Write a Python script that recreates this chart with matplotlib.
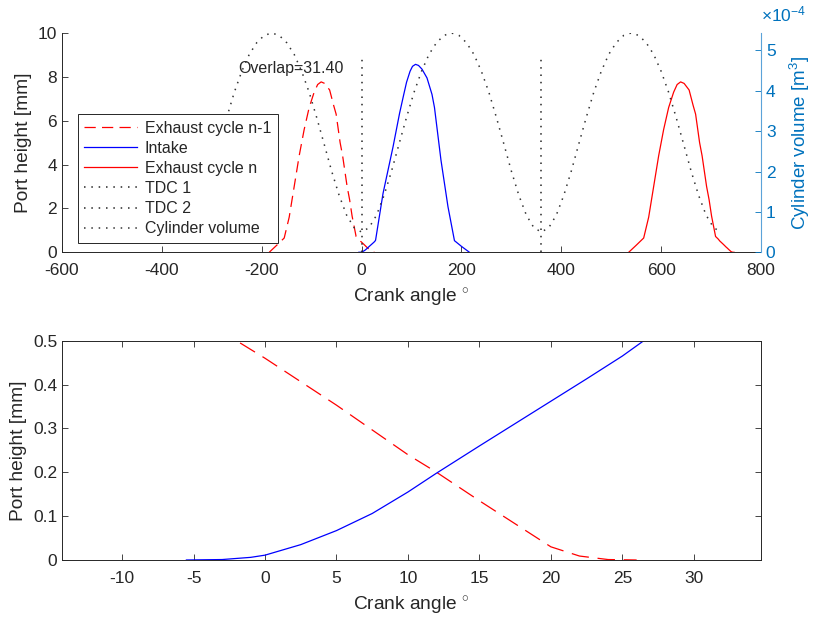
import numpy as np
import matplotlib
matplotlib.use('Agg')
import matplotlib.pyplot as plt

plt.rcParams['font.family'] = ['Liberation Sans', 'DejaVu Sans']
plt.rcParams['mathtext.fontset'] = 'custom'
plt.rcParams['mathtext.rm'] = 'Liberation Sans'
plt.rcParams['mathtext.it'] = 'Liberation Sans:italic'
plt.rcParams['axes.unicode_minus'] = False

# Exhaust valve lift, previous cycle (n-1) and current cycle (n)
exh_prev_angle = [-185, -170, -155, -145, -135, -125, -115, -105, -95, -88, -81, -74,
                  -64, -56, -51, -43, -38, -29, -24, -19, -11, -6, -2, 0, 5, 10, 12,
                  15, 20, 22, 24, 26]
exh_n_angle = [535, 550, 565, 575, 585, 595, 605, 615, 625, 632, 639, 646,
               656, 664, 669, 677, 682, 691, 696, 701, 709, 714, 718, 720, 725, 730, 732,
               735, 740, 742, 744, 746]
exh_lift = [0, 0.32, 0.65, 1.6, 3.0, 4.4, 5.6, 6.6, 7.3, 7.65, 7.77, 7.7,
            7.4, 6.7, 6.3, 5.0, 4.4, 3.0, 2.4, 1.65, 0.72, 0.61, 0.5, 0.46, 0.353, 0.24, 0.20,
            0.135, 0.03, 0.009, 0.001, 0]

# Intake valve lift
int_angle = [-5.5, -3, -1, 0, 2.5, 5, 7.5, 10, 12, 15, 17.5, 20, 22.5, 25, 26.5, 28,
             35, 43, 53, 63, 76, 84, 90, 97, 102, 108, 114, 121, 131, 141, 146, 159,
             173, 186, 200, 216]
int_lift = [0, 0.001, 0.006, 0.011, 0.035, 0.067, 0.106, 0.155, 0.198, 0.260, 0.311,
            0.362, 0.413, 0.465, 0.50, 0.55, 1.55, 2.69, 3.75, 4.81, 6.33, 7.15, 7.75,
            8.25, 8.48, 8.57, 8.52, 8.35, 7.95, 7.2, 6.6, 4.2, 2.08, 0.53, 0.27, 0]

# TDC markers
tdc1_x = [0, 0]
tdc2_x = [360, 360]
tdc_y = [0, 9]

# Cylinder volume [x1e-4 m^3], every 15 deg from -360 to 720
vol_angle = [-360, -345, -330, -315, -300, -285, -270, -255, -240, -225, -210, -195,
             -180, -165, -150, -135, -120, -105, -90, -75, -60, -45, -30, -15,
             0, 15, 30, 45, 60, 75, 90, 105, 120, 135, 150, 165,
             180, 195, 210, 225, 240, 255, 270, 285, 300, 315, 330, 345,
             360, 375, 390, 405, 420, 435, 450, 465, 480, 495, 510, 525,
             540, 555, 570, 585, 600, 615, 630, 645, 660, 675, 690, 705, 720]
vol_e4 = [0.50, 0.61, 0.92, 1.41, 2.01, 2.68, 3.34, 3.96, 4.48, 4.90, 5.19, 5.37,
          5.43, 5.37, 5.19, 4.90, 4.48, 3.96, 3.34, 2.68, 2.01, 1.41, 0.92, 0.61,
          0.50, 0.61, 0.92, 1.41, 2.01, 2.68, 3.34, 3.96, 4.48, 4.90, 5.19, 5.37,
          5.43, 5.37, 5.19, 4.90, 4.48, 3.96, 3.34, 2.68, 2.01, 1.41, 0.92, 0.61,
          0.50, 0.61, 0.92, 1.41, 2.01, 2.68, 3.34, 3.96, 4.48, 4.90, 5.19, 5.37,
          5.43, 5.37, 5.19, 4.90, 4.48, 3.96, 3.34, 2.68, 2.01, 1.41, 0.92, 0.61, 0.50]

overlap = 31.40

axcol = '#262626'
vcol = '#0072BD'
dash = (0, (9, 5))
dots = (0, (1, 3.8))

fig = plt.figure(figsize=(8.14, 6.2), dpi=100)

# ---- top plot ----
ax1 = fig.add_axes([0.0762, 0.5931, 0.8587, 0.3537])
h1, = ax1.plot(exh_prev_angle, exh_lift, color='red', lw=0.9, linestyle=dash, label='Exhaust cycle n-1')
h2, = ax1.plot(int_angle, int_lift, color='blue', lw=0.9, label='Intake')
h3, = ax1.plot(exh_n_angle, exh_lift, color='red', lw=0.9, label='Exhaust cycle n')
h4, = ax1.plot(tdc1_x, tdc_y, color='0.15', lw=1.1, linestyle=dots, label='TDC 1')
h5, = ax1.plot(tdc2_x, tdc_y, color='0.15', lw=1.1, linestyle=dots, label='TDC 2')
ax1.text(-247, 8.4, 'Overlap=%.2f' % overlap, fontsize=11.5, va='center', ha='left', color=axcol)
ax1.set_xlim(-600, 800)
ax1.set_ylim(0, 10)
ax1.set_xticks(range(-600, 801, 200))
ax1.set_yticks(range(0, 11, 2))
ax1.set_xlabel('Crank angle $^{\\circ}$', fontsize=13.8, color=axcol, labelpad=6)
ax1.set_ylabel('Port height [mm]', fontsize=13.8, color=axcol)
ax1.tick_params(direction='in', length=4, width=0.6, labelsize=12.5, colors=axcol)
ax1.tick_params(axis='x', pad=8)
for s in ['top', 'right']:
    ax1.spines[s].set_visible(False)
for s in ['left', 'bottom']:
    ax1.spines[s].set_color(axcol)
    ax1.spines[s].set_linewidth(0.7)

ax2 = ax1.twinx()
h6, = ax2.plot(vol_angle, np.array(vol_e4) * 1e-4, color='0.2', lw=1.1, linestyle=dots,
               label='Cylinder volume')
ax2.set_ylim(0, 5.43e-4)
ax2.set_yticks(np.arange(0, 5.5e-4, 1e-4))
ax2.set_yticklabels(['0', '1', '2', '3', '4', '5'])
ax2.text(1.0, 1.04, r'$\times10^{-4}$', transform=ax2.transAxes, ha='left', va='bottom',
         fontsize=12.5, color=vcol)
ax2.set_ylabel('Cylinder volume [m$^3$]', fontsize=13.5, color=vcol, labelpad=9)
ax2.tick_params(direction='in', length=4, width=0.6, labelsize=12.5, colors=vcol)
for s in ['top', 'left', 'bottom']:
    ax2.spines[s].set_visible(False)
ax2.spines['right'].set_color('#5BA3D9')
ax2.spines['right'].set_linewidth(0.8)

handles = [h1, h2, h3, h4, h5, h6]
leg = ax2.legend(handles, [h.get_label() for h in handles], loc='upper left',
                 bbox_to_anchor=(0.0225, 0.629), borderaxespad=0, fancybox=False,
                 edgecolor=axcol, framealpha=1, fontsize=11.5, handlelength=3.3,
                 handletextpad=0.5, labelspacing=0.32, borderpad=0.4)
leg.get_frame().set_linewidth(0.7)
for t in leg.get_texts():
    t.set_color(axcol)

# ---- bottom plot (zoom on overlap) ----
ax3 = fig.add_axes([0.0762, 0.0968, 0.8587, 0.3537])
ax3.plot(exh_prev_angle, exh_lift, color='red', lw=0.9, linestyle=(0, (14, 7)))
ax3.plot(int_angle, int_lift, color='blue', lw=0.9)
ax3.plot(exh_n_angle, exh_lift, color='red', lw=0.9)
ax3.set_xlim(-14.2, 34.7)
ax3.set_ylim(0, 0.5)
ax3.set_xticks(range(-10, 31, 5))
ax3.set_yticks(np.arange(0, 0.51, 0.1))
ax3.set_yticklabels(['0', '0.1', '0.2', '0.3', '0.4', '0.5'])
ax3.set_xlabel('Crank angle $^{\\circ}$', fontsize=13.8, color=axcol, labelpad=6)
ax3.set_ylabel('Port height [mm]', fontsize=13.8, color=axcol)
ax3.tick_params(direction='in', length=4, width=0.6, labelsize=12.5, colors=axcol,
                top=True, right=True)
ax3.tick_params(axis='x', pad=8)
for s in ax3.spines.values():
    s.set_color(axcol)
    s.set_linewidth(0.7)

fig.savefig('out.png', dpi=100)
